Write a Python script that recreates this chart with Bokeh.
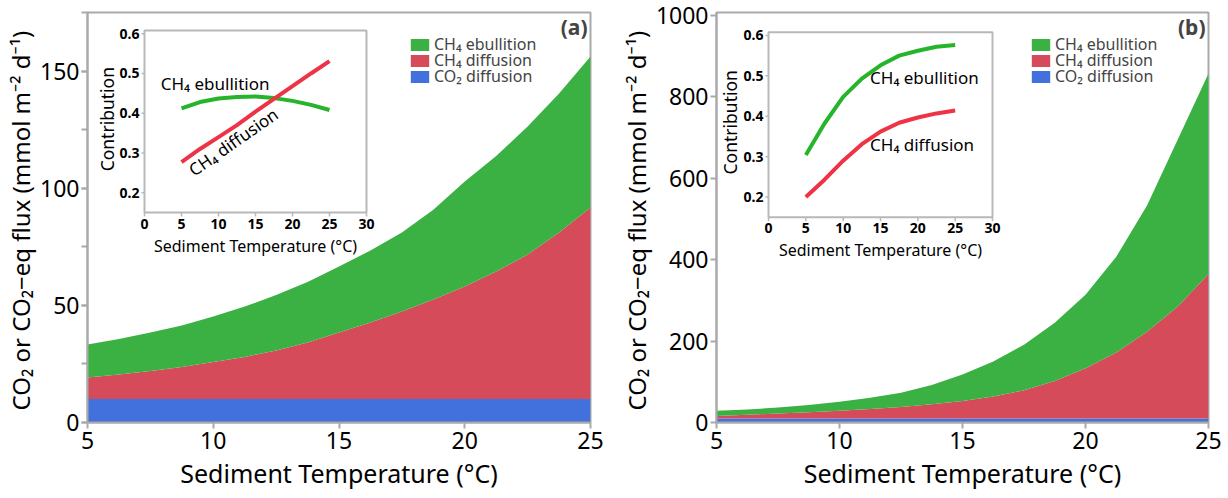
import numpy as np
from bokeh.plotting import figure
from bokeh.models import (Range1d, ColumnDataSource, Legend, LegendItem, Label,
                          SingleIntervalTicker, FixedTicker)
from bokeh.layouts import row
from bokeh.embed import file_html
from bokeh.resources import INLINE
from bokeh.core.properties import value

# ---------------- data ----------------
temp_a = [5, 6.25, 7.5, 8.75, 10, 11.25, 12.5, 13.75, 15, 16.25, 17.5, 18.75, 20,
          21.25, 22.5, 23.75, 25]
co2_diff_a = [10, 10, 10, 10, 10, 10, 10, 10, 10, 10, 10, 10, 10, 10, 10, 10, 10]
ch4_diff_a = [9.2, 10.5, 12.0, 13.7, 15.8, 18.0, 20.7, 24.1, 28.4, 32.7, 37.4, 42.5,
              48.0, 54.4, 61.7, 71.1, 81.8]
ch4_ebul_a = [14.1, 15.1, 16.4, 17.7, 19.4, 21.5, 23.7, 25.9, 28.2, 30.7, 33.7, 38.3,
              44.9, 49.4, 54.6, 59.3, 64.4]

temp_b = [5, 6.25, 7.5, 8.75, 10, 11.25, 12.5, 13.75, 15, 16.25, 17.5, 18.75, 20,
          21.25, 22.5, 23.75, 25]
co2_diff_b = [10, 10, 10, 10, 10, 10, 10, 10, 10, 10, 10, 10, 10, 10, 10, 10, 10]
ch4_diff_b = [6, 9, 12, 15, 18.6, 23, 28, 35, 43, 54, 69, 92, 123, 162, 213, 275, 355]
ch4_ebul_b = [12.6, 13, 14.7, 18, 22.4, 28, 35, 47, 65, 86, 112, 143, 181, 235, 310,
              410, 492]

inset_temp = [5, 7.5, 10, 12.5, 15, 17.5, 20, 22.5, 25]
inset_ebul_a = [0.412, 0.428, 0.437, 0.441, 0.442, 0.438, 0.431, 0.421, 0.408]
inset_diff_a = [0.277, 0.31, 0.34, 0.37, 0.404, 0.436, 0.468, 0.50, 0.531]
inset_ebul_b = [0.304, 0.382, 0.448, 0.493, 0.526, 0.55, 0.562, 0.572, 0.576]
inset_diff_b = [0.2, 0.243, 0.29, 0.331, 0.362, 0.384, 0.397, 0.407, 0.414]

main_x_ticks = [5, 10, 15, 20, 25]
inset_x_ticks = [0, 5, 10, 15, 20, 25, 30]
inset_x_labels = ["0", "5", "10", "15", "20", "25", "30"]
inset_y_ticks = [0.2, 0.3, 0.4, 0.5, 0.6]
inset_y_labels = ["0.2", "0.3", "0.4", "0.5", "0.6"]

series_labels = ["CH₄ ebullition", "CH₄ diffusion", "CO₂ diffusion"]
x_title = "Sediment Temperature (°C)"
y_title = "CO₂ or CO₂−eq  flux (mmol m⁻² d⁻¹)"

# ---------------- styles ----------------
FONT = "Noto Sans"
GREEN = "#3bb143"
RED = "#d54b5a"
BLUE = "#4270dd"
LGREEN = "#26b52a"
LRED = "#ee3346"
GRAY = "#a9a9a9"


def style_axes(p):
    for ax in (p.xaxis[0], p.yaxis[0]):
        ax.axis_line_color = GRAY
        ax.axis_line_width = 2
        ax.major_tick_line_color = GRAY
        ax.major_tick_line_width = 2
        ax.major_tick_out = 6
        ax.major_tick_in = 0
        ax.minor_tick_line_color = GRAY
        ax.minor_tick_line_width = 2
        ax.minor_tick_out = 6
        ax.minor_tick_in = 0
        ax.major_label_text_font = FONT
        ax.major_label_text_font_size = "23px"
        ax.major_label_text_color = "black"
        ax.axis_label_text_font = FONT
        ax.axis_label_text_font_size = "25px"
        ax.axis_label_text_font_style = "normal"
        ax.axis_label_text_color = "black"
    p.yaxis[0].axis_label_text_font_size = "24px"
    p.yaxis[0].axis_label_standoff = 0
    p.yaxis[0].major_label_standoff = 2
    p.xaxis[0].axis_label_standoff = 4
    p.xaxis[0].major_label_standoff = 3
    p.xaxis[0].ticker = FixedTicker(ticks=main_x_ticks)
    p.xaxis[0].minor_tick_line_color = None
    p.outline_line_color = GRAY
    p.outline_line_width = 2
    p.xgrid.visible = False
    p.ygrid.visible = False


def make_panel(temp, co2, ch4d, ch4e, y_end, y_interval, n_minor, letter,
               min_left, width, legend_left, ins_xt, ins_yt, ins_ebul, ins_diff,
               title_off, annotate):
    p = figure(width=width, height=498, x_range=Range1d(5, 25), y_range=Range1d(0, y_end),
               output_backend="svg", toolbar_location=None,
               min_border_left=min_left, min_border_right=20,
               min_border_top=12, min_border_bottom=76,
               x_axis_label=x_title, y_axis_label=y_title)
    style_axes(p)
    p.yaxis[0].ticker = SingleIntervalTicker(interval=y_interval, num_minor_ticks=n_minor)
    if n_minor == 0:
        p.yaxis[0].minor_tick_line_color = None

    src = ColumnDataSource(dict(x=temp, co2=co2, ch4d=ch4d, ch4e=ch4e))
    rs = p.varea_stack(["co2", "ch4d", "ch4e"], x="x", color=[BLUE, RED, GREEN], source=src)

    for i, (lab, r) in enumerate(zip(series_labels, [rs[2], rs[1], rs[0]])):
        lg = Legend(items=[LegendItem(label=lab, renderers=[r])],
                    location=(legend_left, 367 - 16 * i), padding=0, spacing=0, margin=0,
                    glyph_width=23, glyph_height=15, label_height=15,
                    label_standoff=3, label_text_font=FONT, label_text_font_size="16px",
                    border_line_color=None, background_fill_alpha=0)
        p.add_layout(lg)

    p.add_layout(Label(x=width - min_left - 20 - 3, y=410, x_units="screen", y_units="screen",
                       text=letter, text_align="right", text_baseline="top",
                       text_font=FONT, text_font_style="bold", text_font_size="21px"))

    # ---------- inset ----------
    ins = p.subplot(x_source=Range1d(0, 30), y_source=Range1d(0.15, 0.608),
                    x_target=Range1d(*ins_xt), y_target=Range1d(*ins_yt))
    ins.quad(left=[0], right=[30], bottom=[0.15], top=[0.608], fill_color=None,
             line_color="#b8b8b8", line_width=2)
    ins.segment(x0=inset_x_ticks, y0=[0.15] * len(inset_x_ticks), x1=inset_x_ticks,
                y1=[0.14] * len(inset_x_ticks), line_color="#b8b8b8", line_width=1.5)
    ins.segment(x0=[0] * len(inset_y_ticks), y0=inset_y_ticks, x1=[-0.4] * len(inset_y_ticks),
                y1=inset_y_ticks, line_color="#b8b8b8", line_width=1.5)
    ins.text(x=inset_x_ticks, y=[0.15] * len(inset_x_ticks), text=inset_x_labels,
             y_offset=6, text_align="center", text_baseline="top",
             text_font=value(FONT), text_font_style="bold", text_font_size="14px")
    ins.text(x=[0] * len(inset_y_ticks), y=inset_y_ticks, text=inset_y_labels,
             x_offset=-5, text_align="right", text_baseline="middle",
             text_font=value(FONT), text_font_style="bold", text_font_size="14px")
    ins.text(x=[15], y=[0.15], text=[x_title], y_offset=22, text_align="center",
             text_baseline="top", text_font=value(FONT), text_font_size="16px")
    ins.text(x=[0], y=[0.385], text=["Contribution"], x_offset=title_off, angle=np.pi / 2,
             text_align="center", text_baseline="middle", text_font=value(FONT),
             text_font_size="17.5px")
    ins.line(inset_temp, ins_ebul, line_color=LGREEN, line_width=4)
    ins.line(inset_temp, ins_diff, line_color=LRED, line_width=4)
    for (tx, ty, txt, ang) in annotate:
        ins.text(x=[tx], y=[ty], text=[txt], angle=ang, text_align="center" if ang else "left",
                 text_baseline="middle", text_font=value(FONT), text_font_size="17px")
    return p


pa = make_panel(temp_a, co2_diff_a, ch4_diff_a, ch4_ebul_a, 175, 50, 2, "(a)",
                87, 610, 321, (7.266, 16.093), (89.6, 167.3),
                inset_ebul_a, inset_diff_a, -37,
                [(2.2, 0.475, series_labels[0], 0),
                 (12.0, 0.328, series_labels[1], 0.61)])
pb = make_panel(temp_b, co2_diff_b, ch4_diff_b, ch4_ebul_b, 1007, 200, 0, "(b)",
                106, 618, 313, (7.114, 16.22), (504.0, 958.7),
                inset_ebul_b, inset_diff_b, -39,
                [(13.6, 0.495, series_labels[0], 0),
                 (13.6, 0.331, series_labels[1], 0)])

layout = row(pa, pb)
open("out.html", "w").write(file_html(layout, INLINE))
